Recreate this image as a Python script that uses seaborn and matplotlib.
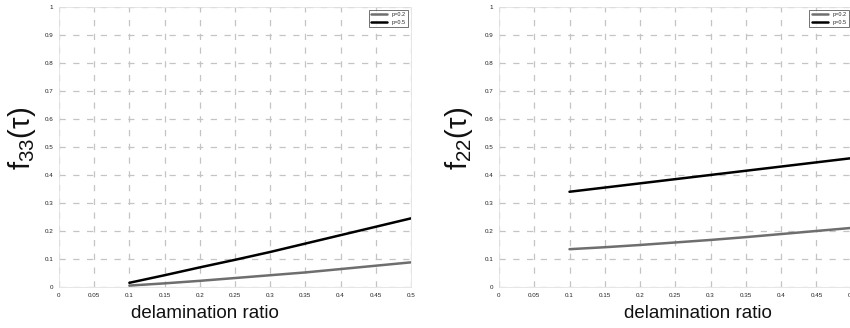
import matplotlib
matplotlib.use("Agg")
import matplotlib.pyplot as plt
import pandas as pd
import seaborn as sns

# delamination ratio samples
ratio = [0.1, 0.15, 0.2, 0.25, 0.3, 0.35, 0.4, 0.45, 0.5]

# f33 curves (left panel)
f33_p02 = [0.005, 0.013, 0.022, 0.032, 0.042, 0.052, 0.064, 0.076, 0.088]
f33_p05 = [0.015, 0.042, 0.070, 0.097, 0.125, 0.155, 0.185, 0.215, 0.245]

# f22 curves (right panel)
f22_p02 = [0.135, 0.142, 0.150, 0.159, 0.168, 0.178, 0.189, 0.200, 0.211]
f22_p05 = [0.340, 0.355, 0.370, 0.385, 0.400, 0.415, 0.430, 0.445, 0.460]

labels = ["p=0.2", "p=0.5"]
xticks = [0, 0.05, 0.1, 0.15, 0.2, 0.25, 0.3, 0.35, 0.4, 0.45, 0.5]
yticks = [0, 0.1, 0.2, 0.3, 0.4, 0.5, 0.6, 0.7, 0.8, 0.9, 1]

sns.set_style("white")
plt.rcParams["font.family"] = ["Liberation Sans", "DejaVu Sans"]
plt.rcParams["mathtext.fontset"] = "custom"
plt.rcParams["mathtext.rm"] = "Liberation Sans"

def make_df(a, b):
    return pd.DataFrame({
        "ratio": ratio + ratio,
        "f": a + b,
        "case": [labels[0]] * len(ratio) + [labels[1]] * len(ratio),
    })

fig = plt.figure(figsize=(8.5, 3.28), dpi=100)
ax1 = fig.add_axes([0.0694, 0.125, 0.414, 0.854])
ax2 = fig.add_axes([0.587, 0.125, 0.415, 0.854])

palette = {labels[0]: "#6e6e6e", labels[1]: "#000000"}

# (axes, curves, y-label, x-label centre, y-label right edge) in axes coords
panels = [
    (ax1, (f33_p02, f33_p05), r"$\mathregular{f_{33}(\tau)}$", 0.415, -0.06),
    (ax2, (f22_p02, f22_p05), r"$\mathregular{f_{22}(\tau)}$", 0.565, -0.068),
]

for ax, (a, b), ylab, xlab_x, ylab_x in panels:
    sns.lineplot(data=make_df(a, b), x="ratio", y="f", hue="case",
                 palette=palette, linewidth=1.8, ax=ax)
    ax.set_xlim(0, 0.5)
    ax.set_ylim(0, 1)
    ax.set_xticks(xticks)
    ax.set_yticks(yticks)
    ax.set_xticklabels([f"{t:g}" for t in xticks])
    ax.set_yticklabels([f"{t:g}" for t in yticks])
    ax.tick_params(labelsize=4.5, length=2, pad=2, labelcolor="#222222")
    ax.grid(True, linestyle=(0, (5, 6)), color="#c4c4c4", linewidth=0.9)
    for s in ax.spines.values():
        s.set_color("#e2e2e2")
        s.set_linewidth(0.6)
    ax.set_xlabel("delamination ratio", fontsize=13.5, color="#111111")
    ax.xaxis.set_label_coords(xlab_x, -0.065)
    ax.set_ylabel(ylab, fontsize=21, color="#111111")
    ax.yaxis.set_label_coords(ylab_x, 0.53)
    leg = ax.legend(loc="upper right", fontsize=4, frameon=True,
                    handlelength=3, borderpad=0.4, fancybox=False)
    leg.get_frame().set_edgecolor("#333333")
    leg.get_frame().set_linewidth(0.6)

fig.savefig("out.png", dpi=100)
